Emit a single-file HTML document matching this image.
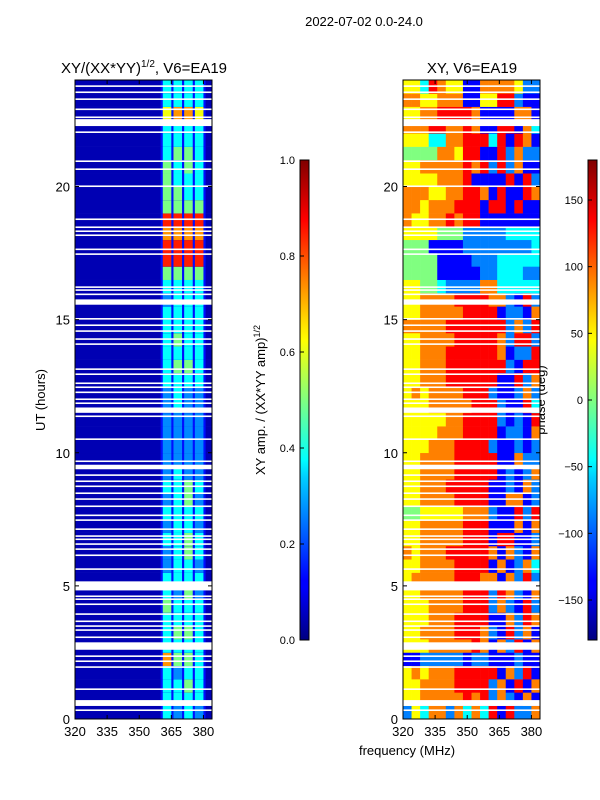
<!DOCTYPE html>
<html><head><meta charset="utf-8"><style>
body{margin:0;background:#fff;}
svg{display:block;font-family:"Liberation Sans",sans-serif;}
</style></head><body>
<svg id="fig" width="600" height="800" viewBox="0 0 600 800">
<defs>
<linearGradient id="jet" x1="0" y1="1" x2="0" y2="0">
<stop offset="0" stop-color="#000080"/><stop offset="0.11" stop-color="#0000ff"/><stop offset="0.125" stop-color="#0000ff"/>
<stop offset="0.34" stop-color="#00d0ff"/><stop offset="0.375" stop-color="#00ffff"/><stop offset="0.5" stop-color="#80ff80"/>
<stop offset="0.625" stop-color="#ffff00"/><stop offset="0.66" stop-color="#ffe000"/><stop offset="0.875" stop-color="#ff0000"/><stop offset="0.89" stop-color="#f00000"/><stop offset="1" stop-color="#800000"/>
</linearGradient>
</defs>
<text x="364" y="26" font-size="13" text-anchor="middle">2022-07-02 0.0-24.0</text>
<text x="144" y="73" font-size="15" text-anchor="middle">XY/(XX*YY)<tspan font-size="10" dy="-6">1/2</tspan><tspan dy="6">, V6=EA19</tspan></text>
<text x="472" y="73" font-size="15" text-anchor="middle">XY, V6=EA19</text>
<text transform="translate(45,400) rotate(-90)" font-size="13" text-anchor="middle">UT (hours)</text>
<text transform="translate(265,400) rotate(-90)" font-size="13" text-anchor="middle">XY amp. / (XX*YY amp)<tspan font-size="9" dy="-5">1/2</tspan></text>
<text transform="translate(545,400) rotate(-90)" font-size="13" text-anchor="middle">phase (deg)</text>
<text x="407" y="755" font-size="13" text-anchor="middle">frequency (MHz)</text>
<g id="left"></g>
<g id="right"></g>
<g id="gapsL"></g>
<g id="gapsR"></g>
<g id="axes"></g>
<rect x="300" y="160" width="9" height="480" fill="url(#jet)" stroke="#000" stroke-width="1"/>
<rect x="588" y="160" width="9" height="480" fill="url(#jet)" stroke="#000" stroke-width="1"/>
<g id="cbticks"></g>
</svg>
<script>
// ---- data ----
const hourRows = [0,0.5,1,1.5,2,2.5,3,3.5,4,4.5,5,5.5,6,6.5,7,7.5,8,8.5,9,9.5,10,10.5,11,11.5,12,12.5,13,13.5,14,14.5,15,15.5,16,16.5,17,17.5,18,18.5,19,19.5,20,20.5,21,21.5,22,22.5,23,23.5];
const stripStart = [361,366,371,376];
const stripWidth = 4;
const ampStrips = ["4343","4444","4454","4344","7554","4444","4554","4444","5444","4353","4444","3443","3454","4454","3443","4444","3453","4454","3433","3333","3333","3333","3333","3433","3433","4444","4554","4444","4544","4444","4444","3444","4444","5555","8888","8888","7777","8888","5555","5544","5444","5454","4554","4444","4444","6776","4444","4444"];
const ampBg = 0.05;
const ampBand = 0.14;
const phaseFreq = [320,324,328,332,336,340,344,348,352,356,360,364,368,372,376,380];
const phaseRows = ["2536626363717226","5566666767262161","5566667777261716","5656667777716271","1122222122111211","5556666676162716","5566667776217261","5556667777116276","5556666777262172","5566666777276216","5666667776616272","5566667777161263","6566677777616216","5566666777177112","5566666777111616","4455555666211727","5566667777116612","5566677777112162","5566667777712126","5566667777711622","5556667777211212","5555666777712216","5555566777721217","5556666677721173","5656666777211262","5566677777711726","5566677777772177","5566677777761227","5566667777762772","6666677777772627","5566666777712216","5566667777662172","5544322226633333","4444111112233322","4444111122233333","4441111222222223","5555444222223333","6556676771111111","6656667771771711","6665566776171176","5555666711117172","5566666767272611","4444665771172622","5553366777371761","6667766761177163","5566777761111661","6655666115577211","5537655116666522"];
const gapTimes = [23.74,23.51,23.25,22.87,22.57,22.27,22.01,20.92,20.62,19.98,18.74,18.44,18.29,18.14,17.61,17.43,16.19,16.08,15.92,15.56,15.0,14.76,14.54,14.24,14.05,13.11,12.92,12.58,12.43,12.24,11.98,11.83,11.5,11.34,10.48,9.65,9.38,9.13,8.9,8.71,8.45,8.23,7.96,7.62,7.44,7.1,6.84,6.72,6.54,6.35,6.12,5.6,4.83,4.58,4.47,4.28,3.91,3.64,3.46,3.31,3.04,2.6,2.33,2.14,1.92,1.09,0.49,0.3];
const gapDur = [0.06,0.06,0.06,0.06,0.06,0.26,0.06,0.06,0.06,0.06,0.06,0.06,0.06,0.06,0.06,0.06,0.06,0.06,0.06,0.2,0.06,0.06,0.06,0.06,0.06,0.06,0.06,0.06,0.06,0.06,0.06,0.06,0.2,0.06,0.06,0.06,0.17,0.06,0.06,0.06,0.06,0.06,0.06,0.06,0.06,0.06,0.06,0.06,0.06,0.06,0.06,0.06,0.34,0.06,0.06,0.06,0.06,0.06,0.06,0.06,0.06,0.28,0.06,0.06,0.06,0.06,0.22,0.06];
const xTicks = [320,335,350,365,380];
const yTicks = [0,5,10,15,20];
const ampTicks = [0.0,0.2,0.4,0.6,0.8,1.0];
const phaseTicks = [-150,-100,-50,0,50,100,150];
// ---- axes ----
const F0=320,F1=384,T1=24;
const xL=f=>75+(f-F0)/(F1-F0)*137;
const xR=f=>403+(f-F0)/(F1-F0)*137;
const yT=t=>719-t/T1*639;
const cAmp=v=>160+(1-v)*480;
const cPh=v=>160+(180-v)/360*480;
const ampLevel=d=>(d-0.8)/8.5;
function jet(x){x=Math.max(0,Math.min(1,x));const c=v=>Math.round(255*Math.max(0,Math.min(1,v)));
return `rgb(${c(1.5-Math.abs(4*x-3))},${c(1.5-Math.abs(4*x-2))},${c(1.5-Math.abs(4*x-1))})`;}
const NS="http://www.w3.org/2000/svg";
function mk(parent,tag,attrs){const e=document.createElementNS(NS,tag);for(const k in attrs)e.setAttribute(k,attrs[k]);parent.appendChild(e);return e;}
const L=document.getElementById('left'),R=document.getElementById('right');
hourRows.forEach((t,i)=>{
  const y0=yT(t+0.5),h=yT(t)-yT(t+0.5);
  let r=mk(L,'rect',{x:xL(F0),y:y0,width:xL(F1)-xL(F0),height:h+0.3,fill:jet(ampBg)});
  
  
  r=mk(L,'rect',{x:xL(360),y:y0,width:xL(381)-xL(360),height:h+0.3,fill:jet(ampBand)});
  
  
  stripStart.forEach((f,j)=>{
    const v=ampLevel(+ampStrips[i][j]);
    const c=mk(L,'rect',{x:xL(f),y:y0,width:xL(f+stripWidth)-xL(f),height:h+0.3,fill:jet(v)});
    
    
  });
  phaseFreq.forEach((f,j)=>{
    const ph=-180+(+phaseRows[i][j])*45;
    const f2=j+1<phaseFreq.length?phaseFreq[j+1]:F1;
    const c=mk(R,'rect',{x:xR(f),y:y0,width:xR(f2)-xR(f)+0.3,height:h+0.3,fill:jet((ph+180)/360)});
    
    
  });
});
const GL=document.getElementById('gapsL'),GR=document.getElementById('gapsR');
gapTimes.forEach((t,i)=>{
  const y0=yT(t+gapDur[i]),h=yT(t)-yT(t+gapDur[i]);
  let g=mk(GL,'rect',{x:xL(F0),y:y0,width:xL(F1)-xL(F0),height:h,fill:'#fff'});
  
  
  g=mk(GR,'rect',{x:xR(F0),y:y0,width:xR(F1)-xR(F0),height:h,fill:'#fff'});
  
  
});
const A=document.getElementById('axes');
[[xL,'left'],[xR,'right']].forEach(([xf,nm])=>{
  const fr=mk(A,'rect',{x:xf(F0),y:yT(T1),width:xf(F1)-xf(F0),height:yT(0)-yT(T1),fill:'none',stroke:'#000','stroke-width':1});
  
  
  xTicks.forEach(f=>{
    mk(A,'line',{x1:xf(f),x2:xf(f),y1:yT(0),y2:yT(0)-4,stroke:'#000'});
    mk(A,'line',{x1:xf(f),x2:xf(f),y1:yT(T1),y2:yT(T1)+4,stroke:'#000'});
    const tx=mk(A,'text',{x:xf(f),y:yT(0)+17,'font-size':13,'text-anchor':'middle'});
    tx.textContent=f;
    
    
  });
  yTicks.forEach(t=>{
    mk(A,'line',{x1:xf(F0),x2:xf(F0)+4,y1:yT(t),y2:yT(t),stroke:'#000'});
    mk(A,'line',{x1:xf(F1),x2:xf(F1)-4,y1:yT(t),y2:yT(t),stroke:'#000'});
    const tx=mk(A,'text',{x:xf(F0)-5,y:yT(t)+5,'font-size':13,'text-anchor':'end'});
    tx.textContent=t;
    
    
  });
});
const CB=document.getElementById('cbticks');
ampTicks.forEach(v=>{
  mk(CB,'line',{x1:300,x2:304,y1:cAmp(v),y2:cAmp(v),stroke:'#000'});
  const tx=mk(CB,'text',{x:295,y:cAmp(v)+4,'font-size':11,'text-anchor':'end'});
  tx.textContent=v.toFixed(1);
  
  
});
phaseTicks.forEach(v=>{
  mk(CB,'line',{x1:588,x2:592,y1:cPh(v),y2:cPh(v),stroke:'#000'});
  const tx=mk(CB,'text',{x:583,y:cPh(v)+4,'font-size':11,'text-anchor':'end'});
  tx.textContent=v<0?'\u2212'+(-v):v;
  
  
});
</script>
</body></html>
